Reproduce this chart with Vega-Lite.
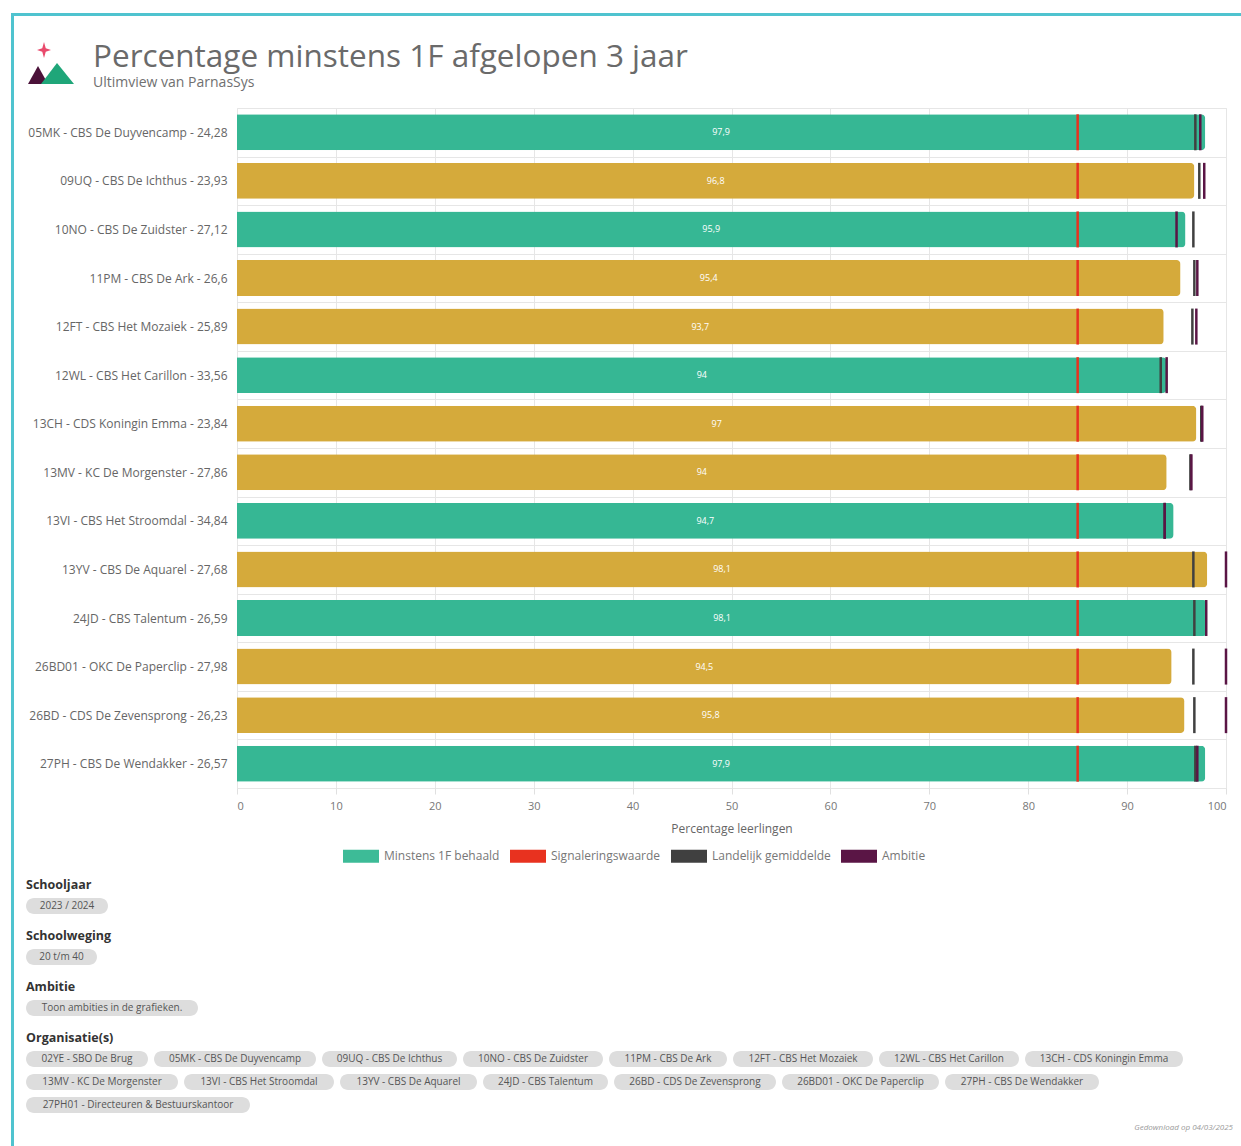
{
  "$schema": "https://vega.github.io/schema/vega-lite/v6.json",
  "padding": {"left": 11, "top": 13, "right": 0, "bottom": 0},
  "background": "white",
  "config": {
    "font": "Open Sans",
    "view": {"stroke": null},
    "locale": {"number": {"decimal": ",", "thousands": ".", "grouping": [3], "currency": ["€", ""]}}
  },
  "resolve": {"scale": {"color": "independent", "fill": "independent", "shape": "independent"}},
  "spacing": 0,
  "vconcat": [
    {
      "width": 1230, "height": 3,
      "view": {"fill": "#4fc3cf", "stroke": null},
      "data": {"values": []},
      "mark": {"type": "point", "opacity": 0}
    },
    {
      "spacing": 12,
      "resolve": {"scale": {"color": "independent", "fill": "independent", "shape": "independent"}},
      "hconcat": [
        {
          "width": 3, "height": 1130,
          "view": {"fill": "#4fc3cf", "stroke": null},
          "data": {"values": []},
          "mark": {"type": "point", "opacity": 0}
        },
        {
          "spacing": 10,
          "resolve": {"scale": {"color": "independent", "fill": "independent", "shape": "independent"}},
          "vconcat": [
            {
              "width": 1, "height": 14,
              "data": {"values": []},
              "mark": {"type": "point", "opacity": 0}
            },
            {
              "spacing": 17,
              "hconcat": [
                {
                  "width": 50, "height": 48,
                  "data": {"values": [{"deel": "berg links"}, {"deel": "berg rechts"}, {"deel": "ster"}]},
                  "mark": {"type": "point", "filled": true, "opacity": 1, "size": 2500, "strokeWidth": 0},
                  "encoding": {
                    "shape": {"field": "deel", "type": "nominal", "legend": null,
                      "scale": {"domain": ["berg links", "berg rechts", "ster"],
                        "range": ["M-0.92,0.8L-0.52,0.08L-0.12,0.8Z", "M-0.4,0.8L0.24,-0.04L0.92,0.8Z", "M-0.28,-0.88L-0.21,-0.63L0,-0.56L-0.21,-0.49L-0.28,-0.24L-0.35,-0.49L-0.56,-0.56L-0.35,-0.63Z"]}},
                    "fill": {"field": "deel", "type": "nominal", "legend": null,
                      "scale": {"domain": ["berg links", "berg rechts", "ster"], "range": ["#4b1239", "#1fa679", "#e94a6c"]}}
                  }
                },
                {
                  "spacing": 0,
                  "vconcat": [
                    {
                      "width": 1, "height": 1,
                      "data": {"values": []},
                      "mark": {"type": "point", "opacity": 0}
                    },
                    {
                      "width": 620, "height": 1,
                      "title": {
                        "text": "Percentage minstens 1F afgelopen 3 jaar",
                        "subtitle": "Ultimview van ParnasSys",
                        "anchor": "start", "fontSize": 31.5, "fontWeight": "normal", "color": "#6a6a6a",
                        "subtitleFontSize": 14, "subtitleColor": "#707070", "subtitlePadding": 3, "offset": 0
                      },
                      "data": {"values": []},
                      "mark": {"type": "point", "opacity": 0}
                    }
                  ]
                }
              ]
            },
            {
              "spacing": 0,
              "resolve": {"scale": {"color": "independent", "fill": "independent", "shape": "independent"}},
              "hconcat": [
                {
                  "width": 1, "height": 1,
                  "data": {"values": []},
                  "mark": {"type": "point", "opacity": 0}
                },
                {
                  "width": 989, "height": 680,
                  "view": {"stroke": "#e6e6e6"},
                  "data": {"values": [
                    {"school": "05MK - CBS De Duyvencamp - 24,28", "pct": 97.9, "Signaleringswaarde": 85, "Landelijk gemiddelde": 96.9, "Ambitie": 97.4},
                    {"school": "09UQ - CBS De Ichthus - 23,93", "pct": 96.8, "Signaleringswaarde": 85, "Landelijk gemiddelde": 97.3, "Ambitie": 97.8},
                    {"school": "10NO - CBS De Zuidster - 27,12", "pct": 95.9, "Signaleringswaarde": 85, "Landelijk gemiddelde": 96.7, "Ambitie": 95.0},
                    {"school": "11PM - CBS De Ark - 26,6", "pct": 95.4, "Signaleringswaarde": 85, "Landelijk gemiddelde": 96.8, "Ambitie": 97.1},
                    {"school": "12FT - CBS Het Mozaiek - 25,89", "pct": 93.7, "Signaleringswaarde": 85, "Landelijk gemiddelde": 96.6, "Ambitie": 97.0},
                    {"school": "12WL - CBS Het Carillon - 33,56", "pct": 94, "Signaleringswaarde": 85, "Landelijk gemiddelde": 93.4, "Ambitie": 94.0},
                    {"school": "13CH - CDS Koningin Emma - 23,84", "pct": 97, "Signaleringswaarde": 85, "Landelijk gemiddelde": 97.5, "Ambitie": 97.6},
                    {"school": "13MV - KC De Morgenster - 27,86", "pct": 94, "Signaleringswaarde": 85, "Landelijk gemiddelde": 96.4, "Ambitie": 96.5},
                    {"school": "13VI - CBS Het Stroomdal - 34,84", "pct": 94.7, "Signaleringswaarde": 85, "Landelijk gemiddelde": 93.8, "Ambitie": 93.8},
                    {"school": "13YV - CBS De Aquarel - 27,68", "pct": 98.1, "Signaleringswaarde": 85, "Landelijk gemiddelde": 96.7, "Ambitie": 100},
                    {"school": "24JD - CBS Talentum - 26,59", "pct": 98.1, "Signaleringswaarde": 85, "Landelijk gemiddelde": 96.8, "Ambitie": 98.0},
                    {"school": "26BD01 - OKC De Paperclip - 27,98", "pct": 94.5, "Signaleringswaarde": 85, "Landelijk gemiddelde": 96.7, "Ambitie": 100},
                    {"school": "26BD - CDS De Zevensprong - 26,23", "pct": 95.8, "Signaleringswaarde": 85, "Landelijk gemiddelde": 96.8, "Ambitie": 100},
                    {"school": "27PH - CBS De Wendakker - 26,57", "pct": 97.9, "Signaleringswaarde": 85, "Landelijk gemiddelde": 96.9, "Ambitie": 97.1}
                  ]},
                  "encoding": {
                    "y": {"field": "school", "type": "nominal", "sort": null,
                      "scale": {"paddingInner": 0, "paddingOuter": 0},
                      "axis": {"title": null, "domain": false, "ticks": false, "grid": true, "tickBand": "extent",
                        "gridColor": "#e6e6e6", "labelFontSize": 12, "labelColor": "#666666", "labelPadding": 10, "labelLimit": 300}}
                  },
                  "layer": [
                    {
                      "mark": {"type": "bar", "height": {"band": 0.74}, "cornerRadiusEnd": 4},
                      "encoding": {
                        "x": {"field": "pct", "type": "quantitative", "scale": {"domain": [0, 100]},
                          "axis": {"title": "Percentage leerlingen", "tickCount": 10, "domain": false, "ticks": true, "tickColor": "#e0e0e0", "tickSize": 6,
                            "gridColor": "#e6e6e6", "labelFontSize": 11, "labelColor": "#777777", "labelPadding": 6,
                            "titleFontSize": 12, "titleFontWeight": "normal", "titleColor": "#666666", "titlePadding": 12}},
                        "color": {"condition": {"test": "datum.pct >= datum['Ambitie']", "value": "#36b794"}, "value": "#d5aa3b"}
                      }
                    },
                    {
                      "mark": {"type": "text", "color": "white", "fontSize": 9},
                      "encoding": {
                        "x": {"field": "pct", "type": "quantitative", "stack": "zero", "bandPosition": 0.5},
                        "text": {"field": "pct", "type": "quantitative", "format": "~g"}
                      }
                    },
                    {
                      "transform": [{"fold": ["Signaleringswaarde", "Landelijk gemiddelde", "Ambitie"], "as": ["reeks", "waarde"]}],
                      "mark": {"type": "tick", "size": 36, "thickness": 2.5, "opacity": 1},
                      "encoding": {
                        "x": {"field": "waarde", "type": "quantitative"},
                        "color": {"field": "reeks", "type": "nominal",
                          "scale": {"domain": ["Minstens 1F behaald", "Signaleringswaarde", "Landelijk gemiddelde", "Ambitie"],
                            "range": ["#3dbb97", "#e8321f", "#404040", "#5a1545"]},
                          "legend": {"orient": "none", "legendX": 102, "legendY": 726, "padding": 4, "direction": "horizontal", "title": null,
                            "symbolType": "M-1,-0.36H1V0.36H-1Z", "symbolSize": 1296, "symbolStrokeWidth": 0, "symbolOpacity": 1,
                            "labelFontSize": 12, "labelColor": "#777777", "columnPadding": 10, "labelOffset": 5}}
                      }
                    }
                  ]
                }
              ]
            },
            {
              "spacing": 15,
              "vconcat": [
                {
                  "title": {"text": "Schooljaar", "anchor": "start", "fontSize": 12.5, "fontWeight": "bold", "color": "#333333", "offset": 7},
                  "width": 82, "height": 16,
                  "view": {"fill": "#dddddd", "stroke": null, "cornerRadius": 8},
                  "data": {"values": [{"label": "2023 / 2024"}]},
                  "mark": {"type": "text", "fontSize": 10, "color": "#555555"},
                  "encoding": {"text": {"field": "label"}}
                },
                {
                  "title": {"text": "Schoolweging", "anchor": "start", "fontSize": 12.5, "fontWeight": "bold", "color": "#333333", "offset": 7},
                  "width": 71, "height": 16,
                  "view": {"fill": "#dddddd", "stroke": null, "cornerRadius": 8},
                  "data": {"values": [{"label": "20 t/m 40"}]},
                  "mark": {"type": "text", "fontSize": 10, "color": "#555555"},
                  "encoding": {"text": {"field": "label"}}
                },
                {
                  "title": {"text": "Ambitie", "anchor": "start", "fontSize": 12.5, "fontWeight": "bold", "color": "#333333", "offset": 7},
                  "width": 172, "height": 16,
                  "view": {"fill": "#dddddd", "stroke": null, "cornerRadius": 8},
                  "data": {"values": [{"label": "Toon ambities in de grafieken."}]},
                  "mark": {"type": "text", "fontSize": 10, "color": "#555555"},
                  "encoding": {"text": {"field": "label"}}
                },
                {
                  "title": {"text": "Organisatie(s)", "anchor": "start", "fontSize": 12.5, "fontWeight": "bold", "color": "#333333", "offset": 7},
                  "spacing": 7,
                  "vconcat": [
                    {
                      "spacing": 6,
                      "hconcat": [
                        {"width": 122, "height": 16, "view": {"fill": "#dddddd", "stroke": null, "cornerRadius": 8}, "data": {"values": [{"label": "02YE - SBO De Brug"}]}, "mark": {"type": "text", "fontSize": 10, "color": "#555555"}, "encoding": {"text": {"field": "label"}}},
                        {"width": 162, "height": 16, "view": {"fill": "#dddddd", "stroke": null, "cornerRadius": 8}, "data": {"values": [{"label": "05MK - CBS De Duyvencamp"}]}, "mark": {"type": "text", "fontSize": 10, "color": "#555555"}, "encoding": {"text": {"field": "label"}}},
                        {"width": 135, "height": 16, "view": {"fill": "#dddddd", "stroke": null, "cornerRadius": 8}, "data": {"values": [{"label": "09UQ - CBS De Ichthus"}]}, "mark": {"type": "text", "fontSize": 10, "color": "#555555"}, "encoding": {"text": {"field": "label"}}},
                        {"width": 140, "height": 16, "view": {"fill": "#dddddd", "stroke": null, "cornerRadius": 8}, "data": {"values": [{"label": "10NO - CBS De Zuidster"}]}, "mark": {"type": "text", "fontSize": 10, "color": "#555555"}, "encoding": {"text": {"field": "label"}}},
                        {"width": 118, "height": 16, "view": {"fill": "#dddddd", "stroke": null, "cornerRadius": 8}, "data": {"values": [{"label": "11PM - CBS De Ark"}]}, "mark": {"type": "text", "fontSize": 10, "color": "#555555"}, "encoding": {"text": {"field": "label"}}},
                        {"width": 140, "height": 16, "view": {"fill": "#dddddd", "stroke": null, "cornerRadius": 8}, "data": {"values": [{"label": "12FT - CBS Het Mozaiek"}]}, "mark": {"type": "text", "fontSize": 10, "color": "#555555"}, "encoding": {"text": {"field": "label"}}},
                        {"width": 140, "height": 16, "view": {"fill": "#dddddd", "stroke": null, "cornerRadius": 8}, "data": {"values": [{"label": "12WL - CBS Het Carillon"}]}, "mark": {"type": "text", "fontSize": 10, "color": "#555555"}, "encoding": {"text": {"field": "label"}}},
                        {"width": 158, "height": 16, "view": {"fill": "#dddddd", "stroke": null, "cornerRadius": 8}, "data": {"values": [{"label": "13CH - CDS Koningin Emma"}]}, "mark": {"type": "text", "fontSize": 10, "color": "#555555"}, "encoding": {"text": {"field": "label"}}}
                      ]
                    },
                    {
                      "spacing": 6,
                      "hconcat": [
                        {"width": 152, "height": 16, "view": {"fill": "#dddddd", "stroke": null, "cornerRadius": 8}, "data": {"values": [{"label": "13MV - KC De Morgenster"}]}, "mark": {"type": "text", "fontSize": 10, "color": "#555555"}, "encoding": {"text": {"field": "label"}}},
                        {"width": 150, "height": 16, "view": {"fill": "#dddddd", "stroke": null, "cornerRadius": 8}, "data": {"values": [{"label": "13VI - CBS Het Stroomdal"}]}, "mark": {"type": "text", "fontSize": 10, "color": "#555555"}, "encoding": {"text": {"field": "label"}}},
                        {"width": 137, "height": 16, "view": {"fill": "#dddddd", "stroke": null, "cornerRadius": 8}, "data": {"values": [{"label": "13YV - CBS De Aquarel"}]}, "mark": {"type": "text", "fontSize": 10, "color": "#555555"}, "encoding": {"text": {"field": "label"}}},
                        {"width": 125, "height": 16, "view": {"fill": "#dddddd", "stroke": null, "cornerRadius": 8}, "data": {"values": [{"label": "24JD - CBS Talentum"}]}, "mark": {"type": "text", "fontSize": 10, "color": "#555555"}, "encoding": {"text": {"field": "label"}}},
                        {"width": 162, "height": 16, "view": {"fill": "#dddddd", "stroke": null, "cornerRadius": 8}, "data": {"values": [{"label": "26BD - CDS De Zevensprong"}]}, "mark": {"type": "text", "fontSize": 10, "color": "#555555"}, "encoding": {"text": {"field": "label"}}},
                        {"width": 157, "height": 16, "view": {"fill": "#dddddd", "stroke": null, "cornerRadius": 8}, "data": {"values": [{"label": "26BD01 - OKC De Paperclip"}]}, "mark": {"type": "text", "fontSize": 10, "color": "#555555"}, "encoding": {"text": {"field": "label"}}},
                        {"width": 154, "height": 16, "view": {"fill": "#dddddd", "stroke": null, "cornerRadius": 8}, "data": {"values": [{"label": "27PH - CBS De Wendakker"}]}, "mark": {"type": "text", "fontSize": 10, "color": "#555555"}, "encoding": {"text": {"field": "label"}}}
                      ]
                    },
                    {
                      "width": 224, "height": 16, "view": {"fill": "#dddddd", "stroke": null, "cornerRadius": 8}, "data": {"values": [{"label": "27PH01 - Directeuren & Bestuurskantoor"}]}, "mark": {"type": "text", "fontSize": 10, "color": "#555555"}, "encoding": {"text": {"field": "label"}}
                    }
                  ]
                }
              ]
            },
            {
              "width": 1207, "height": 10,
              "data": {"values": [{"t": "Gedownload op 04/03/2025"}]},
              "mark": {"type": "text", "align": "right", "fontSize": 8, "fontStyle": "italic", "color": "#9a9a9a"},
              "encoding": {"text": {"field": "t"}, "x": {"value": "width"}}
            }
          ]
        }
      ]
    }
  ]
}
